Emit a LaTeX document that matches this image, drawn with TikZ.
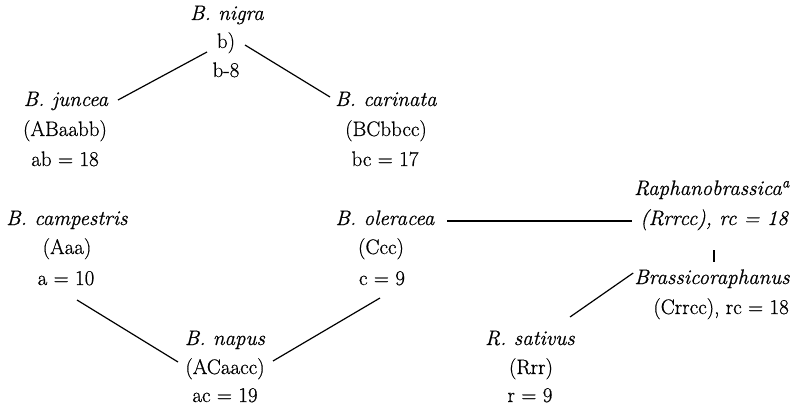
\documentclass[tikz,border=0pt]{standalone}
\usepackage{fontspec}
\setmainfont{Latin Modern Roman}[
  UprightFeatures={FakeBold=0.6},
  ItalicFeatures={FakeBold=0.6}]
\usetikzlibrary{calc}
\begin{document}
\begin{tikzpicture}[x=1pt,y=-1pt,
  txt/.style={inner sep=0pt,anchor=base,font=\fontsize{21}{25}\selectfont},
  rtxt/.style={txt,anchor=base east},
  link/.style={line width=1.2pt,black}]
\useasboundingbox[fill=white] (0,0) rectangle (799,406);

% Brassica triangle
\node[txt] (nigraA) at (227,20) {\textit{B. nigra}};
\node[txt] (nigraB) at (226,48) {b)};
\node[txt] (nigraC) at (226,77) {b-8};

\node[txt] (junceaA) at (66,106) {\textit{B. juncea}};
\node[txt] (junceaB) at (65,136) {(ABaabb)};
\node[txt] (junceaC) at (65,166) {ab = 18};

\node[txt] (carinataA) at (386,106) {\textit{B. carinata}};
\node[txt] (carinataB) at (386,136) {(BCbbcc)};
\node[txt] (carinataC) at (385,166) {bc = 17};

\node[txt] (campA) at (67,225) {\textit{B. campestris}};
\node[txt] (campB) at (67,254) {(Aaa)};
\node[txt] (campC) at (66,285) {a = 10};

\node[txt] (olerA) at (385,225) {\textit{B. oleracea}};
\node[txt] (olerB) at (381,254) {(Ccc)};
\node[txt] (olerC) at (382,285) {c = 9};

\node[txt] (napusA) at (225,345) {\textit{B. napus}};
\node[txt] (napusB) at (225,374) {(ACaacc)};
\node[txt] (napusC) at (225,402) {ac = 19};

% Raphanus hybrids
\node[rtxt] (raphA) at (790,195) {\textit{Raphanobrassica}\textsuperscript{\itshape a}};
\node[rtxt] (raphB) at (789,225) {\textit{(Rrrcc), rc = 18}};
\node[rtxt] (brassA) at (790,284) {\textit{Brassicoraphanus}};
\node[rtxt] (brassB) at (789,314) {(Crrcc), rc = 18};

\node[txt] (sativA) at (530,345) {\textit{R. sativus}};
\node[txt] (sativB) at (531,374) {(Rrr)};
\node[txt] (sativC) at (530,402) {r = 9};

% connectors
\draw[link] ($(junceaA.base)+(52,-6)$) -- ($(nigraB.base)+(-19,4)$);
\draw[link] ($(nigraB.base)+(19,-3)$) -- ($(carinataA.base)+(-56,-9)$);
\draw[link] ($(campC.base)+(11,15)$) -- ($(napusB.base)+(-47,-12)$);
\draw[link] ($(napusB.base)+(48,-13)$) -- ($(olerC.base)+(-2,13)$);
\draw[link] ($(olerA.base)+(62,-4)$) -- ($(raphB.base west)+(-8,-4)$);
\draw[link] ($(raphB.base east)+(-75,25)$) -- ($(brassA.base east)+(-76,-22)$);
\draw[link] ($(sativA.base)+(40,-28)$) -- ($(brassA.base west)+(-1,-11)$);
\end{tikzpicture}
\end{document}
